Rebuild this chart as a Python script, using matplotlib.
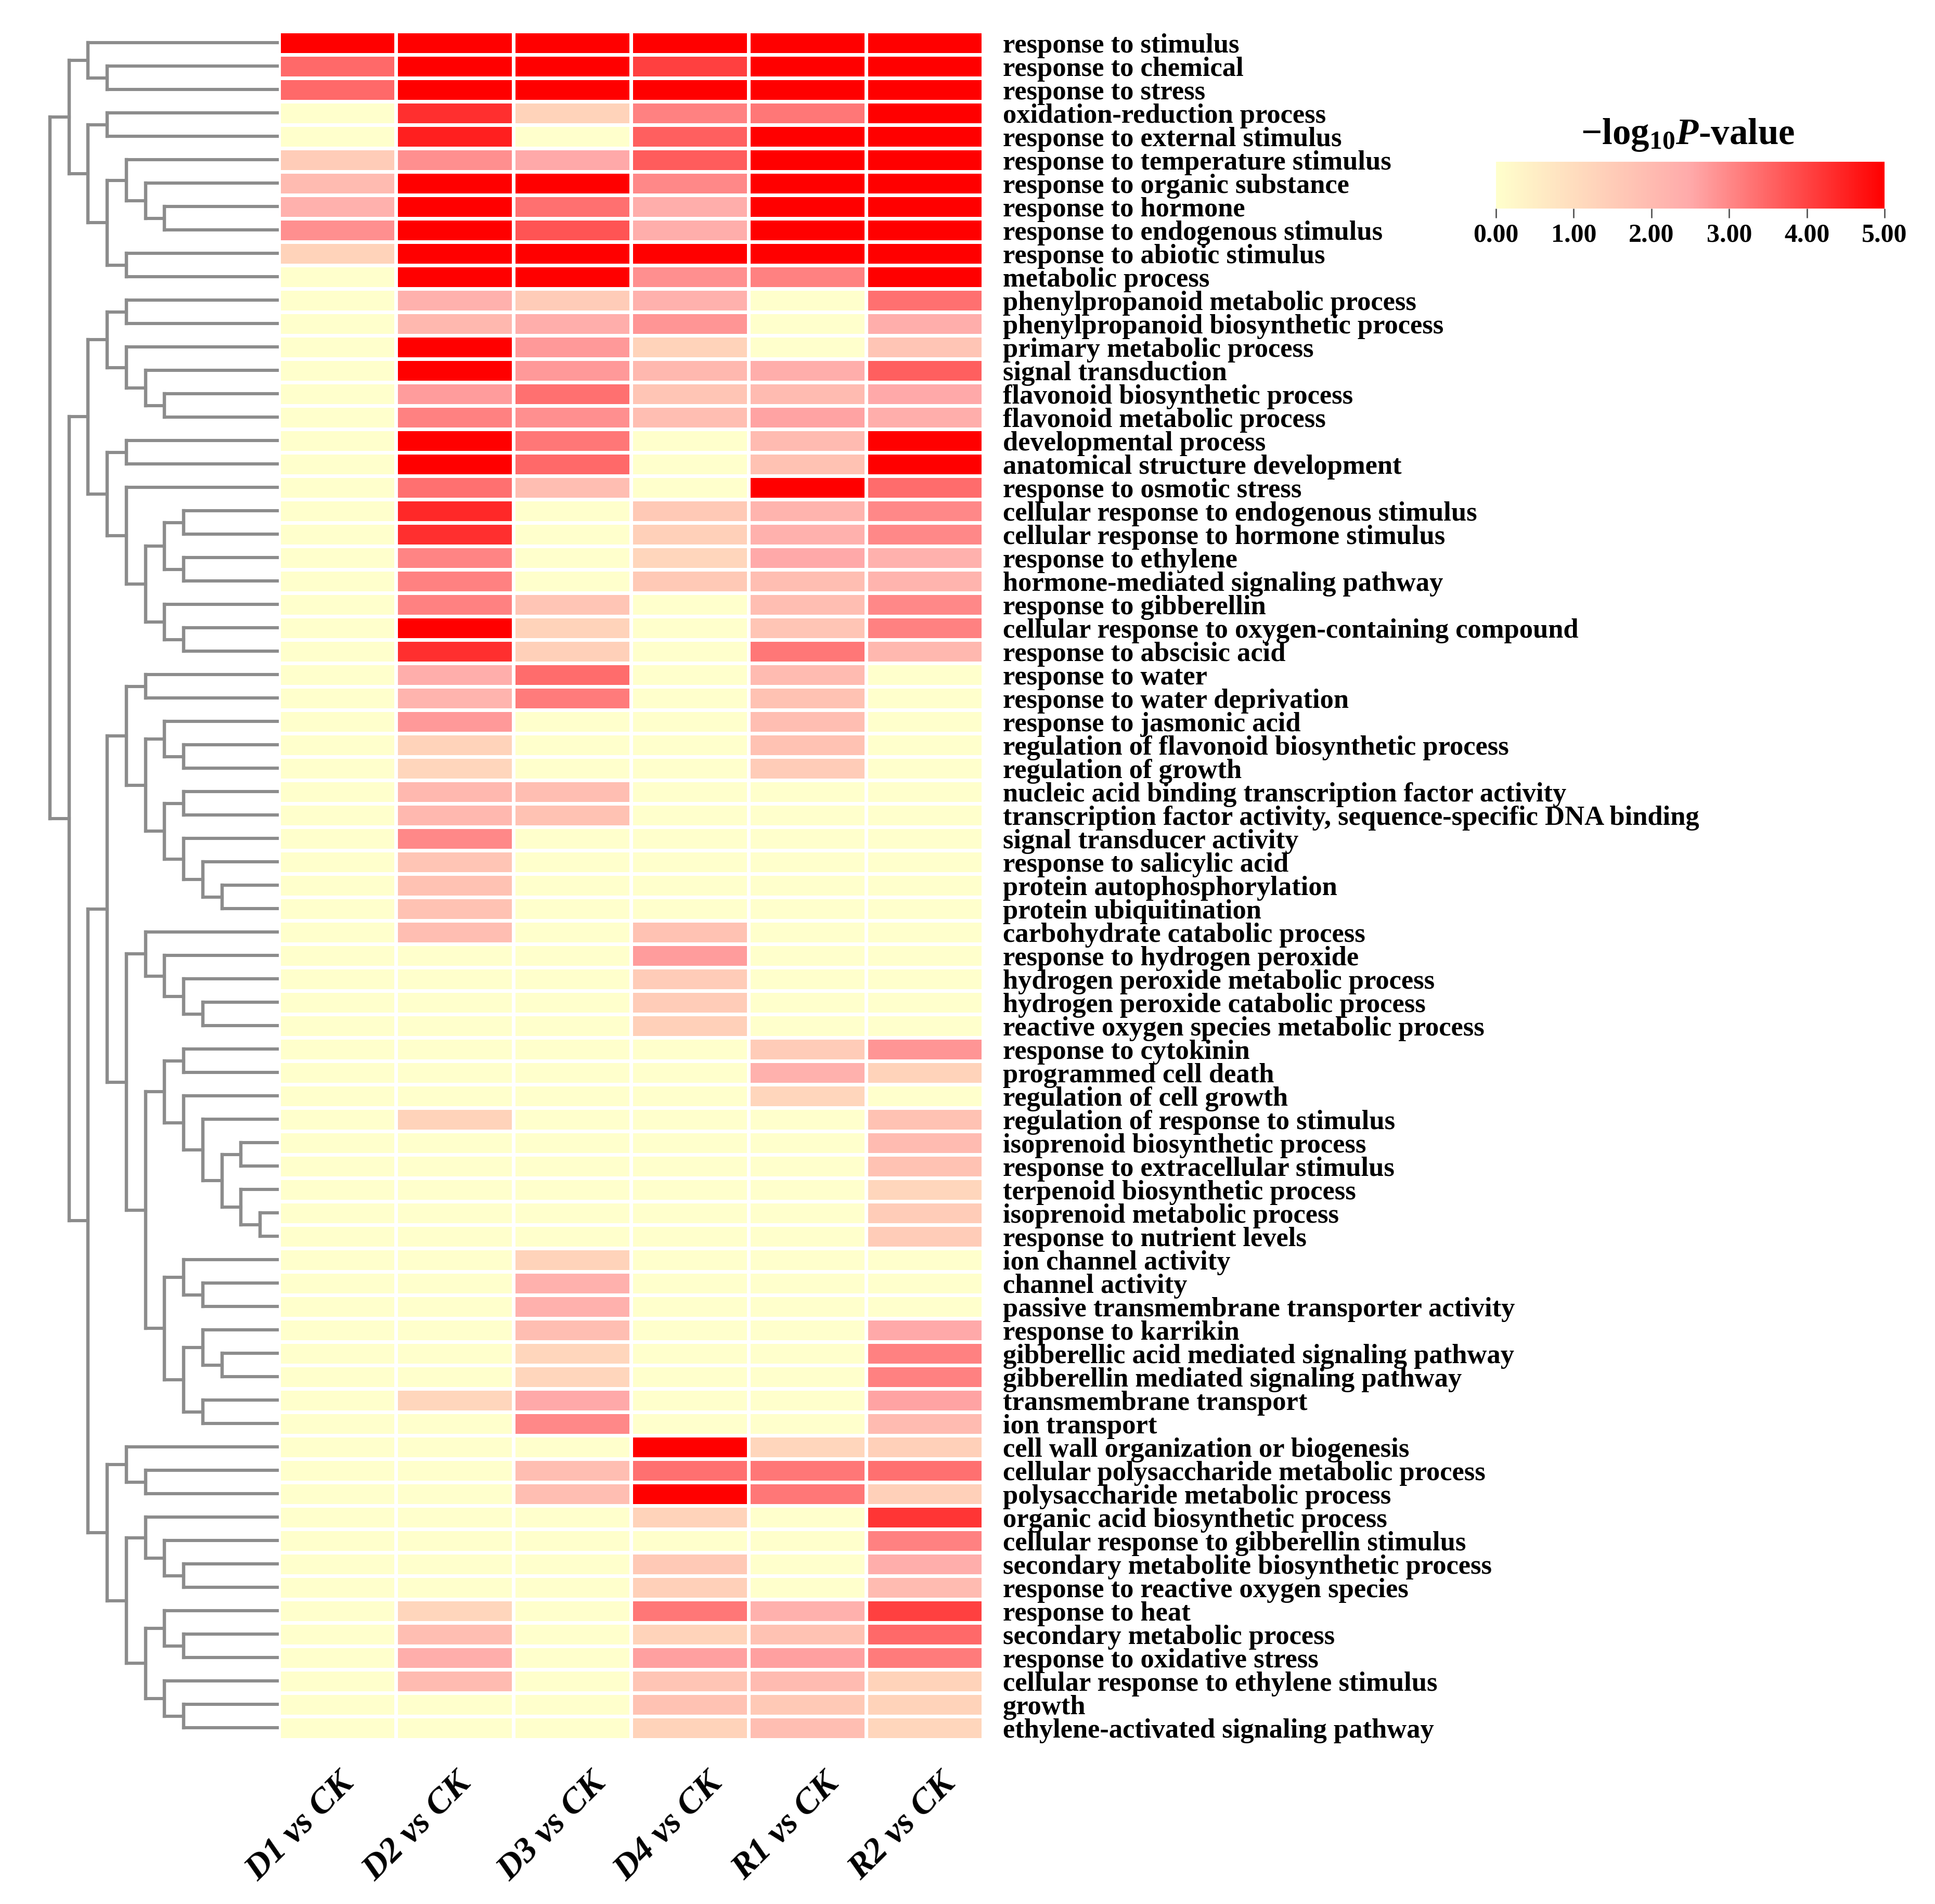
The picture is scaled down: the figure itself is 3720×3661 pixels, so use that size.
import numpy as np
import matplotlib
matplotlib.use('Agg')
import matplotlib.pyplot as plt
from matplotlib.colors import LinearSegmentedColormap
from matplotlib.transforms import ScaledTranslation

plt.rcParams['font.family'] = ['Liberation Serif', 'DejaVu Serif']
plt.rcParams['font.weight'] = 'bold'
plt.rcParams['mathtext.fontset'] = 'custom'
plt.rcParams['mathtext.bf'] = 'Liberation Serif:bold'
plt.rcParams['mathtext.bfit'] = 'Liberation Serif:italic:bold'
plt.rcParams['mathtext.rm'] = 'Liberation Serif:bold'

# GO terms, top to bottom
terminos = [
    'response to stimulus', 'response to chemical', 'response to stress',
    'oxidation-reduction process', 'response to external stimulus',
    'response to temperature stimulus', 'response to organic substance',
    'response to hormone', 'response to endogenous stimulus',
    'response to abiotic stimulus', 'metabolic process',
    'phenylpropanoid metabolic process', 'phenylpropanoid biosynthetic process',
    'primary metabolic process', 'signal transduction',
    'flavonoid biosynthetic process', 'flavonoid metabolic process',
    'developmental process', 'anatomical structure development',
    'response to osmotic stress', 'cellular response to endogenous stimulus',
    'cellular response to hormone stimulus', 'response to ethylene',
    'hormone-mediated signaling pathway', 'response to gibberellin',
    'cellular response to oxygen-containing compound', 'response to abscisic acid',
    'response to water', 'response to water deprivation', 'response to jasmonic acid',
    'regulation of flavonoid biosynthetic process', 'regulation of growth',
    'nucleic acid binding transcription factor activity',
    'transcription factor activity, sequence-specific DNA binding',
    'signal transducer activity', 'response to salicylic acid',
    'protein autophosphorylation', 'protein ubiquitination',
    'carbohydrate catabolic process', 'response to hydrogen peroxide',
    'hydrogen peroxide metabolic process', 'hydrogen peroxide catabolic process',
    'reactive oxygen species metabolic process', 'response to cytokinin',
    'programmed cell death', 'regulation of cell growth',
    'regulation of response to stimulus', 'isoprenoid biosynthetic process',
    'response to extracellular stimulus', 'terpenoid biosynthetic process',
    'isoprenoid metabolic process', 'response to nutrient levels',
    'ion channel activity', 'channel activity',
    'passive transmembrane transporter activity', 'response to karrikin',
    'gibberellic acid mediated signaling pathway',
    'gibberellin mediated signaling pathway', 'transmembrane transport',
    'ion transport', 'cell wall organization or biogenesis',
    'cellular polysaccharide metabolic process', 'polysaccharide metabolic process',
    'organic acid biosynthetic process', 'cellular response to gibberellin stimulus',
    'secondary metabolite biosynthetic process', 'response to reactive oxygen species',
    'response to heat', 'secondary metabolic process', 'response to oxidative stress',
    'cellular response to ethylene stimulus', 'growth',
    'ethylene-activated signaling pathway',
]

comparaciones = ['D1 vs CK', 'D2 vs CK', 'D3 vs CK', 'D4 vs CK', 'R1 vs CK', 'R2 vs CK']

# -log10 P per comparison
d1 = [5, 3.45, 3.45, 0, 0, 1.5, 2, 2.3, 2.9, 1.3,
      0, 0, 0, 0, 0, 0, 0, 0, 0, 0,
      0, 0, 0, 0, 0, 0, 0, 0, 0, 0,
      0, 0, 0, 0, 0, 0, 0, 0, 0, 0,
      0, 0, 0, 0, 0, 0, 0, 0, 0, 0,
      0, 0, 0, 0, 0, 0, 0, 0, 0, 0,
      0, 0, 0, 0, 0, 0, 0, 0, 0, 0,
      0, 0, 0]
d2 = [5, 5, 5, 4.3, 4.55, 2.9, 5, 5, 5, 5,
      5, 2.3, 2.1, 5, 5, 2.7, 3.1, 5, 5, 3.35,
      4.4, 4.3, 3.05, 3.1, 3.1, 5, 4.3, 2.4, 2.2, 2.75,
      1.3, 1.2, 2.1, 2.1, 3.0, 1.7, 1.8, 1.8, 1.9, 0,
      0, 0, 0, 0, 0, 0, 1.3, 0, 0, 0,
      0, 0, 0, 0, 0, 0, 0, 0, 1.2, 0,
      0, 0, 0, 0, 0, 0, 0, 1.2, 1.9, 2.4,
      2.0, 0, 0]
d3 = [5, 5, 5, 1.3, 0, 2.5, 5, 3.35, 3.75, 5,
      5, 1.5, 2.4, 2.75, 2.75, 3.35, 2.9, 3.25, 3.45, 1.9,
      0, 0, 0, 0, 1.7, 1.3, 1.4, 3.4, 3.2, 0,
      0, 0, 1.9, 1.8, 0, 0, 0, 0, 0, 0,
      0, 0, 0, 0, 0, 0, 0, 0, 0, 0,
      0, 0, 1.3, 2.3, 2.3, 1.9, 1.2, 1.2, 2.5, 3.0,
      0, 1.9, 1.9, 0, 0, 0, 0, 0, 0, 0,
      0, 0, 0]
d4 = [5, 4.05, 5, 3.1, 3.6, 3.65, 3.0, 2.4, 2.4, 5,
      2.9, 2.3, 2.8, 1.3, 2.1, 1.7, 1.9, 0, 0, 0,
      1.6, 1.4, 1.2, 1.6, 0, 0, 0, 0, 0, 0,
      0, 0, 0, 0, 0, 0, 0, 0, 1.8, 2.7,
      1.5, 1.5, 1.4, 0, 0, 0, 0, 0, 0, 0,
      0, 0, 0, 0, 0, 0, 0, 0, 0, 0,
      5, 3.35, 5, 1.3, 0, 1.6, 1.4, 3.25, 1.3, 2.65,
      1.7, 1.8, 1.3]
r1 = [5, 5, 5, 3.25, 5, 5, 5, 5, 5, 5,
      3.1, 0, 0, 0, 2.4, 2, 2.6, 2, 1.8, 5,
      2.2, 2.3, 2.5, 1.9, 1.9, 1.7, 3.25, 2, 1.8, 1.9,
      1.8, 1.5, 0, 0, 0, 0, 0, 0, 0, 0,
      0, 0, 0, 1.5, 2.3, 1.2, 0, 0, 0, 0,
      0, 0, 0, 0, 0, 0, 0, 0, 0, 0,
      1.2, 3.25, 3.25, 0, 0, 0, 0, 2.3, 1.8, 2.65,
      2.0, 1.6, 1.9]
r2 = [5, 5, 5, 5, 5, 5, 5, 5, 5, 5,
      5, 3.35, 2.4, 1.7, 3.6, 2.5, 2.4, 5, 5, 3.4,
      3.0, 3.0, 2.3, 2.2, 3.0, 3.1, 2.1, 0, 0, 0,
      0, 0, 0, 0, 0, 0, 0, 0, 0, 0,
      0, 0, 0, 2.8, 1.3, 0, 1.8, 2.0, 1.8, 1.2,
      1.5, 1.5, 0, 0, 0, 2.5, 3.1, 3.1, 2.6, 2.0,
      1.4, 3.35, 1.4, 4.2, 3.1, 2.4, 2.0, 4.05, 3.45, 3.2,
      1.3, 1.3, 1.2]

# Dendrograma: listas anidadas con el indice de cada fila
arbol = [
    [[0, [1, 2]],
     [[3, 4],
      [[5, [6, [7, 8]]], [9, 10]]]],
    [[[[11, 12], [13, [14, [15, 16]]]],
      [[17, 18], [19, [[[20, 21], [22, 23]], [24, [25, 26]]]]]],
     [[[[27, 28],
        [[29, [30, 31]], [[32, 33], [34, [35, [36, 37]]]]]],
       [[38, [39, [40, [41, 42]]]],
        [[[43, 44], [45, [46, [[47, 48], [49, [50, 51]]]]]],
         [[52, [53, 54]], [[55, [56, 57]], [58, 59]]]]]],
      [[60, [61, 62]],
       [[63, [64, [65, 66]]],
        [[67, [68, 69]], [70, [71, 72]]]]]]],
]

ANCHO, ALTO = 3720, 3662
NIVEL_HOJA = 11.9
GRIS = '#8c8c8c'


def eje_px(fig, x0, x1, y0, y1):
    """Crea un eje a partir de sus bordes en pixeles (y desde arriba)."""
    return fig.add_axes([x0 / ANCHO, 1 - y1 / ALTO, (x1 - x0) / ANCHO, (y1 - y0) / ALTO])


def dibujar_rama(ax, nodo, nivel):
    """Dibuja un nodo del dendrograma y devuelve su posicion en y."""
    if not isinstance(nodo, list):
        return nodo + 0.5
    ys = []
    for hijo in nodo:
        y = dibujar_rama(ax, hijo, nivel + 1)
        x_fin = NIVEL_HOJA if not isinstance(hijo, list) else nivel + 1
        ax.plot([nivel, x_fin], [y, y], color=GRIS, lw=4.4, solid_capstyle='projecting')
        ys.append(y)
    ax.plot([nivel, nivel], [ys[0], ys[-1]], color=GRIS, lw=4.6, solid_capstyle='projecting')
    return sum(ys) / 2


cmap = LinearSegmentedColormap.from_list(
    'amarillo_rojo', [(0, '#ffffcc'), (0.5, '#ffaaaa'), (1, '#ff0000')])
valores = np.array([d1, d2, d3, d4, r1, r2]).T

fig = plt.figure(figsize=(ANCHO / 100, ALTO / 100), dpi=100)

# Heatmap
ax = eje_px(fig, 535.5, 1890.3, 60.7, 3345.7)
malla = ax.pcolormesh(np.arange(7), np.arange(74), valores, cmap=cmap, vmin=0, vmax=5,
                      edgecolors='white', linewidth=5)
ax.set_xlim(0, 6)
ax.set_ylim(73, 0)
for s in ax.spines.values():
    s.set_visible(False)
ax.yaxis.tick_right()
ax.set_yticks(np.arange(73) + 0.5)
ax.set_yticklabels(terminos, fontsize=37.9, fontweight='bold')
ax.tick_params(axis='y', length=0, pad=27)
for etiqueta in ax.get_yticklabels():
    etiqueta.set_transform(etiqueta.get_transform() +
                           ScaledTranslation(0, 1 / 100, fig.dpi_scale_trans))
ax.set_xticks(np.arange(6) + 0.5)
ax.set_xticklabels(comparaciones, fontsize=49, fontweight='bold', fontstyle='italic',
                   rotation=45, ha='right', va='top', rotation_mode='anchor')
ax.tick_params(axis='x', length=0, pad=38)
# the last four labels sit further right in the original
for etiqueta, dx in zip(ax.get_xticklabels(), [1, 0, 34, 32, 30, 28]):
    etiqueta.set_transform(etiqueta.get_transform() +
                           ScaledTranslation(dx / 100, 0, fig.dpi_scale_trans))

# Dendrograma
ax_d = eje_px(fig, 96, 533, 60.7, 3345.7)
dibujar_rama(ax_d, arbol, 0)
ax_d.set_xlim(0, NIVEL_HOJA)
ax_d.set_ylim(73, 0)
ax_d.axis('off')
for linea in ax_d.lines:
    linea.set_clip_on(False)

# Barra de color
cax = eje_px(fig, 2876, 3623, 312, 402)
cb = fig.colorbar(malla, cax=cax, orientation='horizontal')
cb.set_ticks([0, 1, 2, 3, 4, 5])
cb.set_ticklabels(['0.00', '1.00', '2.00', '3.00', '4.00', '5.00'], fontsize=36, fontweight='bold')
cb.outline.set_visible(False)
cb.solids.set_edgecolor('face')
cax.tick_params(axis='x', length=13, width=2, color='#555555', pad=7)
fig.text(3245 / ANCHO, 1 - 259 / ALTO,
         '\u2212$\\mathbf{log_{10}}\\mathbfit{P}$-value',
         fontsize=51, fontweight='bold', ha='center', va='center')

fig.savefig('out.png', dpi=100, facecolor='white')
